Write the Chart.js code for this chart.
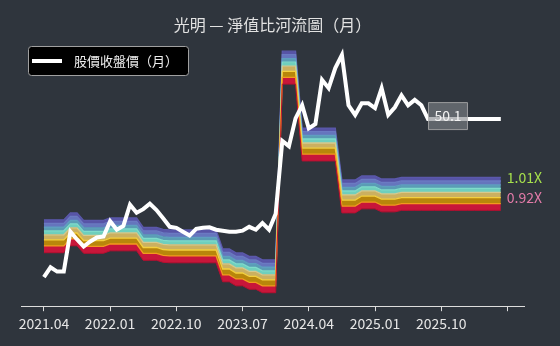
<!DOCTYPE html>
<html>
<head>
<meta charset="utf-8">
<script src="https://cdn.jsdelivr.net/npm/chart.js@4.4.1/dist/chart.umd.min.js"></script>
<style>
  html, body { margin: 0; background: #2f353d; }
  #wrap { width: 560px; height: 346px; }
</style>
</head>
<body>
<div id="wrap"><canvas id="river"></canvas></div>
<script>
// tick labels every 10 points (last tick has no label)
const tickLabels = ['2021.04', '2022.01', '2022.10', '2023.07', '2024.04', '2025.01', '2025.10', '']

// monthly close
const price = [
  32.0, 32.9, 32.5, 32.5, 36.4, 35.6, 34.9, 35.4, 35.8, 35.9,
  37.5, 36.6, 37.0, 39.3, 38.4, 38.8, 39.4, 38.7, 37.8, 36.9,
  36.8, 36.4, 36.0, 36.7, 36.8, 36.85, 36.6, 36.5, 36.4, 36.4,
  36.5, 36.9, 36.6, 37.3, 36.6, 38.3, 47.1, 46.4, 50.2, 52.1,
  48.8, 49.4, 56.0, 54.7, 57.9, 60.1, 52.1, 50.7, 52.4, 52.4,
  51.7, 54.7, 50.7, 51.8, 53.6, 52.1, 52.9, 52.1, 50.1, 50.1,
  50.1, 50.1, 50.1, 50.1, 50.1, 50.1, 50.1, 50.1, 50.1, 50.1,
]

// book value per share
const bvps = [
  37.27, 37.27, 37.27, 37.27, 38.01, 38.01, 37.21, 37.21, 37.21, 37.21,
  37.47, 37.47, 37.47, 37.47, 37.47, 36.48, 36.48, 36.48, 36.27, 36.22,
  36.22, 36.22, 36.22, 36.22, 36.22, 36.22, 36.22, 34.32, 34.32, 33.93,
  33.93, 33.60, 33.60, 33.27, 33.27, 33.27, 60.14, 60.14, 60.14, 48.36,
  48.36, 48.36, 48.36, 48.36, 48.36, 41.73, 41.73, 41.73, 42.21, 42.21,
  42.21, 41.85, 41.85, 41.85, 42.03, 42.03, 42.03, 42.03, 42.03, 42.03,
  42.03, 42.03, 42.03, 42.03, 42.03, 42.03, 42.03, 42.03, 42.03, 42.03,
]

// P/B multiples of the river lines, bottom to top
const multiples = [0.92, 0.938, 0.954, 0.968, 0.979, 0.989, 1.0, 1.01]

const FONT = "'Noto Sans CJK TC', 'Noto Sans', sans-serif"
const bandFills = ['#c8163a', '#b8860b', '#cbb060', '#6fcfbd', '#5a9db4', '#6575bd', '#5754a6']
const lineColors = ['#b80f30', '#f29a1e', '#f4d03e', '#d6c98e', '#7fdccb', '#5f9fc0', '#6b7ac2', '#5b58ab']

const datasets = [{
  label: '股價收盤價（月）',
  data: price.map((v, i) => ({ x: i, y: v })),
  borderColor: '#ffffff',
  borderWidth: 4,
  pointRadius: 0,
  tension: 0,
  fill: false,
}]

multiples.forEach((m, k) => {
  datasets.push({
    label: m + 'X',
    data: bvps.map((b, i) => ({ x: i, y: b * m })),
    borderColor: lineColors[k],
    borderWidth: k === 0 ? 1 : 1.3,
    backgroundColor: k === 0 ? 'transparent' : bandFills[k - 1],
    pointRadius: 0,
    tension: 0,
    fill: k === 0 ? false : '-1',
  })
})

const overlay = {
  id: 'overlay',
  afterDraw(chart) {
    const { ctx, scales: { x, y } } = chart
    ctx.save()

    // legend box
    ctx.beginPath()
    ctx.roundRect(28.5, 46.5, 160, 29, 3)
    ctx.fillStyle = '#000000'
    ctx.fill()
    ctx.strokeStyle = '#a0a0a0'
    ctx.lineWidth = 1
    ctx.stroke()
    ctx.beginPath()
    ctx.moveTo(32, 61)
    ctx.lineTo(62, 61)
    ctx.strokeStyle = '#ffffff'
    ctx.lineWidth = 4
    ctx.stroke()
    ctx.fillStyle = '#eeeeee'
    ctx.font = `13px ${FONT}`
    ctx.textBaseline = 'middle'
    ctx.textAlign = 'left'
    ctx.fillText(datasets[0].label, 74, 61)

    // last close tag
    let lastMove = price.length - 1
    while (lastMove > 0 && price[lastMove - 1] === price[lastMove]) lastMove--
    const px = x.getPixelForValue(lastMove)
    const py = y.getPixelForValue(price[lastMove])
    ctx.beginPath()
    ctx.rect(px + 0.5, py - 16.5, 39, 27)
    ctx.fillStyle = 'rgba(130,133,138,0.6)'
    ctx.fill()
    ctx.strokeStyle = 'rgba(175,175,175,0.8)'
    ctx.lineWidth = 1
    ctx.stroke()
    ctx.fillStyle = '#f2f2f2'
    ctx.font = `14px ${FONT}`
    ctx.textAlign = 'center'
    ctx.fillText(price[lastMove].toFixed(1), px + 20, py - 3)

    // multiple labels
    const last = bvps.length - 1
    const ex = x.getPixelForValue(last) + 6
    const topY = y.getPixelForValue(bvps[last] * multiples[multiples.length - 1])
    ctx.textAlign = 'left'
    ctx.fillStyle = '#a6e04c'
    ctx.fillText(multiples[multiples.length - 1].toFixed(2) + 'X', ex, topY)
    ctx.fillStyle = '#e27aa8'
    ctx.fillText(multiples[0].toFixed(2) + 'X', ex, topY + 20)

    ctx.restore()
  },
}

new Chart(document.getElementById('river'), {
  type: 'line',
  data: { datasets },
  options: {
    responsive: true,
    maintainAspectRatio: false,
    animation: false,
    devicePixelRatio: 1,
    layout: { padding: { left: 21, right: 36, top: 0, bottom: 10 } },
    plugins: {
      legend: { display: false },
      tooltip: { enabled: false },
      title: {
        display: true,
        text: '光明 — 淨值比河流圖（月）',
        color: '#e2e2e2',
        font: { family: FONT, size: 16, weight: 'normal' },
        padding: { top: 15, bottom: 6 },
      },
    },
    scales: {
      x: {
        type: 'linear',
        min: -3.46,
        max: 72.5,
        afterBuildTicks: (scale) => {
          scale.ticks = tickLabels.map((_, k) => ({ value: k * 10 }))
        },
        afterFit: (scale) => {
          scale.paddingLeft = 0
          scale.paddingRight = 0
        },
        grid: { display: true, drawOnChartArea: false, tickLength: 5, color: '#dddddd' },
        border: { display: true, color: '#dddddd' },
        ticks: {
          autoSkip: false,
          maxRotation: 0,
          padding: 4,
          color: '#e6e6e6',
          font: { family: FONT, size: 14 },
          callback: (v) => tickLabels[Math.round(v / 10)] ?? '',
        },
      },
      y: {
        type: 'logarithmic',
        display: false,
        min: 29.46,
        max: 62.67,
      },
    },
  },
  plugins: [overlay],
})
</script>
</body>
</html>
